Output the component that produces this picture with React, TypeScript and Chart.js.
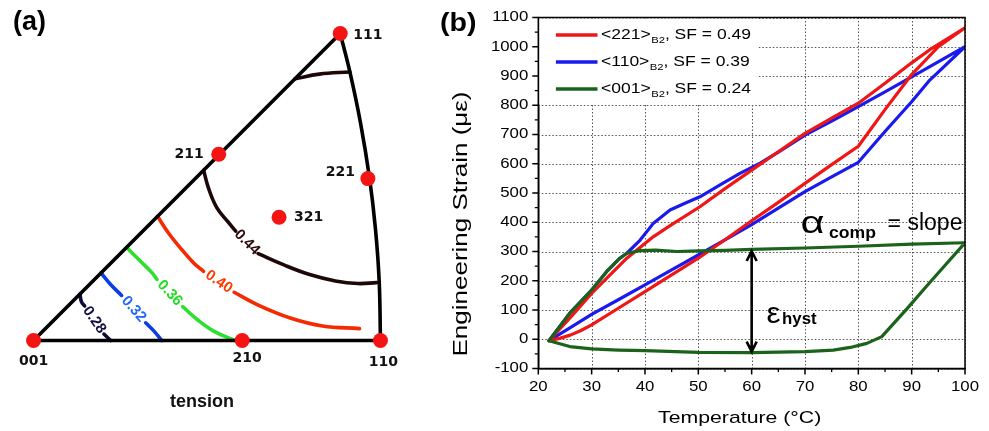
import React, { useEffect, useRef } from "react";
import { Chart, registerables } from "chart.js";

Chart.register(...registerables);

// ================= Panel (b) data: thermal strain loops =================
const X_TICKS = [20, 30, 40, 50, 60, 70, 80, 90, 100];
const X_MINOR_TICKS = [25, 35, 45, 55, 65, 75, 85, 95];
const Y_TICKS = [-100, 0, 100, 200, 300, 400, 500, 600, 700, 800, 900, 1000, 1100];
const Y_MINOR_TICKS = [-50, 50, 150, 250, 350, 450, 550, 650, 750, 850, 950, 1050];

const SERIES_NAMES = ["<221>", "<110>", "<001>"];
const SERIES_SF = ["0.49", "0.39", "0.24"];

// <221> loop (heating branch, then cooling branch)
const RED_T = [22, 24, 26, 28, 30, 35, 40, 45, 50, 55, 60, 65, 70, 75, 80, 85, 90, 95, 100, 93.4, 90, 85, 80, 75, 70, 65, 60, 55, 50.3, 45, 41.6, 38.5, 36.6, 32.8, 30, 25.9, 22];
const RED_S = [-5, 3, 14, 30, 49, 106, 163, 220, 277, 340, 405, 468, 533, 597, 660, 785, 905, 1000, 1065, 990, 945, 875, 807, 756, 704, 641, 578, 515, 453, 392, 351, 305, 277, 208, 157, 72, -5];

// <110> loop
const BLUE_T = [22, 26, 30, 35, 40, 45, 50, 55, 60, 65, 70, 75, 80, 85, 90, 93.4, 100, 93.4, 90, 85, 80, 75, 70, 65, 61.6, 57.8, 54, 50.3, 47.5, 44.7, 41.6, 39.1, 36.6, 35.3, 32.8, 30, 25.9, 22];
const BLUE_S = [-5, 40, 85, 135, 186, 237, 288, 340, 392, 448, 505, 555, 605, 710, 812, 886, 1000, 932, 897, 846, 795, 746, 698, 640, 602, 567, 527, 487, 465, 442, 397, 339, 294, 277, 231, 168, 89, -5];

// <001> loop
const GREEN_T = [22, 25.9, 30, 32.8, 35.3, 36.6, 39.1, 42, 46, 50, 55, 60, 70, 80, 90, 100, 93.4, 89.1, 84.4, 81.6, 78.5, 75.3, 70, 60, 50, 40, 35, 30, 25.9, 22];
const GREEN_S = [-5, 89, 168, 231, 277, 294, 303, 305, 300, 302, 304, 307, 312, 318, 325, 330, 194, 104, 9, -14, -28, -37, -42, -46, -45, -39, -37, -33, -25, -5];

// hysteresis arrow and annotation anchors (data units)
const ARROW_T = 60;
const ARROW_TOP = 305;
const ARROW_BOTTOM = -46;
const ALPHA_ANCHOR = { t: 69.15, s: 363 };
const EPS_ANCHOR = { t: 62.8, s: 56 };

// ================= Panel (a) data: stereographic triangle =================
const POLE_NAMES = ["001", "210", "110", "111", "211", "221", "321"];
const POLE_X = [0, 0.249, 0.414, 0.366, 0.221, 0.399, 0.293];
const POLE_Y = [0, 0, 0, 0.366, 0.222, 0.193, 0.147];

const ARC_111_110: number[][] = [[0.366, 0.366], [0.3776, 0.3199], [0.3903, 0.2589], [0.401, 0.1933], [0.4081, 0.1323], [0.4125, 0.0702], [0.414, 0]];

const C048: number[][] = [[0.312, 0.312], [0.341, 0.3176], [0.3774, 0.3202]];
const C044_A: number[][] = [[0.203, 0.203], [0.2086, 0.1822], [0.2183, 0.1591], [0.2316, 0.1419], [0.2413, 0.1304]];
const C044_B: number[][] = [[0.2681, 0.1036], [0.2988, 0.0901], [0.3295, 0.0786], [0.3602, 0.071], [0.387, 0.0679], [0.4093, 0.069]];
const C040_A: number[][] = [[0.148, 0.148], [0.1608, 0.1285], [0.1761, 0.1093], [0.1914, 0.0921], [0.2029, 0.0825]];
const C040_B: number[][] = [[0.2394, 0.0575], [0.2681, 0.0422], [0.3064, 0.0268], [0.3449, 0.0173], [0.389, 0.0142]];
const C036_A: number[][] = [[0.111, 0.111], [0.1262, 0.0959], [0.1415, 0.0806], [0.1473, 0.0728]];
const C036_B: number[][] = [[0.178, 0.0403], [0.1953, 0.025], [0.2144, 0.0115], [0.24, 0]];
const C032_A: number[][] = [[0.0805, 0.0805], [0.0917, 0.0671], [0.1051, 0.0537]];
const C032_B: number[][] = [[0.1338, 0.0211], [0.1435, 0.0115], [0.153, 0]];
const C028_A: number[][] = [[0.0554, 0.0554], [0.0572, 0.046], [0.061, 0.0411]];
const C028_B: number[][] = [[0.084, 0.0077], [0.092, 0]];

const CONTOURS = [
  { level: "0.48", a: C048, b: null as number[][] | null, color: "#1e0707", text: "#1e0707" },
  { level: "0.44", a: C044_A, b: C044_B, color: "#1e0707", text: "#2a0a0a" },
  { level: "0.40", a: C040_A, b: C040_B, color: "#f52a00", text: "#ff3a00" },
  { level: "0.36", a: C036_A, b: C036_B, color: "#2ee02e", text: "#22dd22" },
  { level: "0.32", a: C032_A, b: C032_B, color: "#0b3de6", text: "#2266ff" },
  { level: "0.28", a: C028_A, b: C028_B, color: "#0c0c3c", text: "#111144" },
];

// ================= styles =================
const SANS = "Arial, 'Liberation Sans', Helvetica, sans-serif";
const RED = "#f01616";
const BLUE = "#1a1aee";
const GREEN = "#1b631b";
const POLE_RED = "#f51414";
const GRID_COLOR = "#555555";

const POLE_LABEL_STYLE: Record<string, { dx: number; dy: number; align: CanvasTextAlign }> = {
  "001": { dx: 0, dy: 21, align: "center" },
  "210": { dx: 5, dy: 18, align: "center" },
  "110": { dx: 3, dy: 22, align: "center" },
  "111": { dx: 13, dy: 2, align: "left" },
  "211": { dx: -15, dy: 0, align: "right" },
  "221": { dx: -13, dy: -6, align: "right" },
  "321": { dx: 15, dy: 0, align: "left" },
};

type TOpts = { font: string; sx?: number; align?: CanvasTextAlign; baseline?: CanvasTextBaseline; color?: string; rotate?: number };

function drawText(ctx: CanvasRenderingContext2D, text: string, x: number, y: number, o: TOpts) {
  ctx.save();
  ctx.translate(x, y);
  if (o.rotate) ctx.rotate(o.rotate);
  ctx.scale(o.sx ?? 1, 1);
  ctx.font = o.font;
  ctx.textAlign = o.align ?? "left";
  ctx.textBaseline = o.baseline ?? "alphabetic";
  ctx.fillStyle = o.color ?? "#000";
  ctx.fillText(text, 0, 0);
  ctx.restore();
}

function measure(ctx: CanvasRenderingContext2D, text: string, font: string, sx = 1) {
  ctx.save();
  ctx.font = font;
  const w = ctx.measureText(text).width;
  ctx.restore();
  return w * sx;
}

const toXY = (t: number[], s: number[]) => t.map((v, i) => ({ x: v, y: s[i] }));
const pairsToXY = (p: number[][]) => p.map(([x, y]) => ({ x, y }));

// legend box size (px)
const LEGEND_W = 219;
const LEGEND_H = 86;

// ================= Panel (b) plugin =================
const panelBDecor = {
  id: "panelBDecor",
  beforeDatasetsDraw(chart: any) {
    const { ctx, chartArea: a } = chart;
    const xs = chart.scales.x;
    const ys = chart.scales.y;
    // dotted grid from the scales' ticks
    ctx.save();
    ctx.strokeStyle = GRID_COLOR;
    ctx.lineWidth = 1;
    ctx.setLineDash([1.5, 2]);
    ctx.beginPath();
    xs.ticks.forEach((t: any) => {
      const x = Math.round(xs.getPixelForValue(t.value)) + 0.5;
      ctx.moveTo(x, a.top);
      ctx.lineTo(x, a.bottom);
    });
    ys.ticks.forEach((t: any) => {
      const y = Math.round(ys.getPixelForValue(t.value)) + 0.5;
      ctx.moveTo(a.left, y);
      ctx.lineTo(a.right, y);
    });
    ctx.stroke();
    ctx.restore();
    // white legend background hides the grid underneath
    ctx.save();
    ctx.fillStyle = "#fff";
    ctx.fillRect(a.left + 1, a.top + 1, LEGEND_W, LEGEND_H);
    ctx.restore();
  },
  afterDraw(chart: any) {
    const { ctx, chartArea: a } = chart;
    const xs = chart.scales.x;
    const ys = chart.scales.y;

    // frame
    ctx.save();
    ctx.strokeStyle = "#000";
    ctx.lineWidth = 1.5;
    ctx.strokeRect(a.left, a.top, a.right - a.left, a.bottom - a.top);
    // major and minor ticks (outward)
    ctx.beginPath();
    xs.ticks.forEach((t: any) => {
      const x = xs.getPixelForValue(t.value);
      ctx.moveTo(x, a.bottom);
      ctx.lineTo(x, a.bottom + 6);
    });
    ys.ticks.forEach((t: any) => {
      const y = ys.getPixelForValue(t.value);
      ctx.moveTo(a.left, y);
      ctx.lineTo(a.left - 6, y);
    });
    ctx.stroke();
    ctx.lineWidth = 1.3;
    ctx.beginPath();
    X_MINOR_TICKS.forEach((v) => {
      const x = xs.getPixelForValue(v);
      ctx.moveTo(x, a.bottom);
      ctx.lineTo(x, a.bottom + 3.5);
    });
    Y_MINOR_TICKS.forEach((v) => {
      const y = ys.getPixelForValue(v);
      ctx.moveTo(a.left, y);
      ctx.lineTo(a.left - 3.5, y);
    });
    ctx.stroke();
    ctx.restore();

    // tick labels
    const tickFont = `14px ${SANS}`;
    xs.ticks.forEach((t: any) =>
      drawText(ctx, String(t.value), xs.getPixelForValue(t.value), a.bottom + 18.5, { font: tickFont, sx: 1.2, align: "center", baseline: "middle" })
    );
    ys.ticks.forEach((t: any) =>
      drawText(ctx, String(t.value), a.left - 10, ys.getPixelForValue(t.value), { font: tickFont, sx: 1.2, align: "right", baseline: "middle" })
    );

    // axis titles
    drawText(ctx, "Temperature (°C)", (a.left + a.right) / 2 - 12, a.bottom + 54, { font: `17px ${SANS}`, sx: 1.25, align: "center" });
    drawText(ctx, "Engineering Strain (με)", 41, 224, { font: `20px ${SANS}`, sx: 1.3, align: "center", baseline: "middle", rotate: -Math.PI / 2 });

    // legend
    const lf = `14px ${SANS}`;
    const sf = `9px ${SANS}`;
    const colors = [RED, BLUE, GREEN];
    SERIES_NAMES.forEach((name, i) => {
      const y = a.top + 17.5 + i * 27;
      ctx.save();
      ctx.strokeStyle = colors[i];
      ctx.lineWidth = 3.5;
      ctx.beginPath();
      ctx.moveTo(a.left + 17.6, y);
      ctx.lineTo(a.left + 59.2, y);
      ctx.stroke();
      ctx.restore();
      let x = a.left + 62.7;
      drawText(ctx, name, x, y, { font: lf, sx: 1.25, baseline: "middle" });
      x += measure(ctx, name, lf, 1.25) + 0.5;
      drawText(ctx, "B2", x, y + 6, { font: sf, sx: 1.25, baseline: "middle" });
      x += measure(ctx, "B2", sf, 1.25);
      drawText(ctx, `, SF = ${SERIES_SF[i]}`, x, y, { font: lf, sx: 1.25, baseline: "middle" });
    });

    // alpha_comp = slope
    const ax0 = xs.getPixelForValue(ALPHA_ANCHOR.t);
    const ay0 = ys.getPixelForValue(ALPHA_ANCHOR.s);
    drawText(ctx, "α", ax0, ay0, { font: `32px ${SANS}`, sx: 1.3 });
    drawText(ctx, "comp", ax0 + 28.5, ay0 + 5, { font: `bold 16px ${SANS}`, sx: 1.1 });
    drawText(ctx, "=", ax0 + 87, ay0 - 2, { font: `23px ${SANS}`, sx: 1.0 });
    drawText(ctx, "slope", ax0 + 107, ay0 - 3, { font: `23px ${SANS}`, sx: 1.0 });

    // epsilon_hyst
    const ex0 = xs.getPixelForValue(EPS_ANCHOR.t);
    const ey0 = ys.getPixelForValue(EPS_ANCHOR.s);
    drawText(ctx, "ε", ex0, ey0, { font: `30px ${SANS}`, sx: 1.05 });
    drawText(ctx, "hyst", ex0 + 15.5, ey0 + 1, { font: `bold 16px ${SANS}`, sx: 1.05 });

    // double arrow
    const px = xs.getPixelForValue(ARROW_T);
    const pt = ys.getPixelForValue(ARROW_TOP);
    const pb = ys.getPixelForValue(ARROW_BOTTOM);
    ctx.save();
    ctx.strokeStyle = "#000";
    ctx.lineWidth = 2.6;
    ctx.beginPath();
    ctx.moveTo(px, pt + 1);
    ctx.lineTo(px, pb - 1);
    ctx.moveTo(px - 5, pt + 11);
    ctx.lineTo(px, pt + 1);
    ctx.lineTo(px + 5, pt + 11);
    ctx.moveTo(px - 5, pb - 11);
    ctx.lineTo(px, pb - 1);
    ctx.lineTo(px + 5, pb - 11);
    ctx.stroke();
    ctx.restore();

    // panel label
    drawText(ctx, "(b)", 20, 24, { font: `bold 26px ${SANS}`, sx: 1.1, baseline: "middle" });
  },
};

// ================= Panel (a) plugin =================
const panelADecor = {
  id: "panelADecor",
  afterDatasetsDraw(chart: any) {
    const { ctx } = chart;
    const xs = chart.scales.x;
    const ys = chart.scales.y;
    CONTOURS.forEach((c) => {
      if (!c.b) return;
      const p = c.a[c.a.length - 1];
      const q = c.b[0];
      const x1 = xs.getPixelForValue(p[0]);
      const y1 = ys.getPixelForValue(p[1]);
      const x2 = xs.getPixelForValue(q[0]);
      const y2 = ys.getPixelForValue(q[1]);
      drawText(ctx, c.level, (x1 + x2) / 2, (y1 + y2) / 2, {
        font: `bold 15px ${SANS}`,
        align: "center",
        baseline: "middle",
        color: c.text,
        rotate: Math.atan2(y2 - y1, x2 - x1),
      });
    });
  },
  afterDraw(chart: any) {
    const { ctx } = chart;
    const xs = chart.scales.x;
    const ys = chart.scales.y;
    POLE_NAMES.forEach((name, i) => {
      const st = POLE_LABEL_STYLE[name];
      drawText(ctx, name, xs.getPixelForValue(POLE_X[i]) + st.dx, ys.getPixelForValue(POLE_Y[i]) + st.dy, {
        font: `bold 14px 'DejaVu Sans', Verdana, sans-serif`,
        align: st.align,
        baseline: "middle",
        color: "#111",
      });
    });
    drawText(ctx, "tension", 202, 402, { font: `bold 18px ${SANS}`, align: "center", baseline: "middle", color: "#111" });
    drawText(ctx, "(a)", 13, 23, { font: `bold 27px ${SANS}`, baseline: "middle" });
  },
};

// ================= components =================
const A_W = 420;
const A_H = 431;
const A_UNIT_PX = 869;
const A_ORIGIN = { x: 27, y: 345 };

function PanelA() {
  const ref = useRef<HTMLCanvasElement>(null);
  useEffect(() => {
    const line = (pts: { x: number; y: number }[], color: string, tension = 0.4) => ({
      data: pts,
      showLine: true,
      borderColor: color,
      backgroundColor: color,
      borderWidth: 3.6,
      pointRadius: 0,
      tension,
      borderCapStyle: "round" as const,
      borderJoinStyle: "round" as const,
      fill: false,
    });
    const edgeIdx = [3, 0, 2];
    const datasets: any[] = [
      {
        data: POLE_X.map((x, i) => ({ x, y: POLE_Y[i] })),
        showLine: false,
        pointRadius: 7.5,
        pointBackgroundColor: POLE_RED,
        pointBorderWidth: 0,
        pointBorderColor: POLE_RED,
      },
      line(edgeIdx.map((i) => ({ x: POLE_X[i], y: POLE_Y[i] })), "#000", 0),
      line(pairsToXY(ARC_111_110), "#000", 0.4),
    ];
    CONTOURS.forEach((c) => {
      datasets.push(line(pairsToXY(c.a), c.color));
      if (c.b) datasets.push(line(pairsToXY(c.b), c.color));
    });
    const chart = new Chart(ref.current!, {
      type: "scatter",
      data: { datasets },
      options: {
        animation: false,
        responsive: false,
        devicePixelRatio: 1,
        events: [],
        layout: { padding: 0 },
        plugins: { legend: { display: false }, tooltip: { enabled: false } },
        scales: {
          x: { type: "linear", display: false, min: -A_ORIGIN.x / A_UNIT_PX, max: (A_W - A_ORIGIN.x) / A_UNIT_PX },
          y: { type: "linear", display: false, min: -(A_H - A_ORIGIN.y) / A_UNIT_PX, max: A_ORIGIN.y / A_UNIT_PX },
        },
      } as any,
      plugins: [panelADecor],
    });
    return () => chart.destroy();
  }, []);
  return <canvas ref={ref} width={A_W} height={A_H} style={{ position: "absolute", left: 0, top: 0 }} />;
}

function PanelB() {
  const ref = useRef<HTMLCanvasElement>(null);
  useEffect(() => {
    const series = (t: number[], s: number[], color: string) => ({
      data: toXY(t, s),
      showLine: true,
      borderColor: color,
      backgroundColor: color,
      borderWidth: 3.2,
      pointRadius: 0,
      tension: 0,
      borderJoinStyle: "round" as const,
      borderCapStyle: "round" as const,
      fill: false,
    });
    const axisCommon = {
      type: "linear",
      ticks: { display: false },
      grid: { display: false, drawOnChartArea: false, drawTicks: false },
      border: { display: true, color: "#000", width: 1.5 },
    };
    const chart = new Chart(ref.current!, {
      type: "scatter",
      data: {
        datasets: [
          series(GREEN_T, GREEN_S, GREEN),
          series(RED_T, RED_S, RED),
          series(BLUE_T, BLUE_S, BLUE),
        ],
      },
      options: {
        animation: false,
        responsive: false,
        devicePixelRatio: 1,
        events: [],
        layout: { padding: { left: 0, right: 24, top: 17.5, bottom: 0 } },
        plugins: { legend: { display: false }, tooltip: { enabled: false } },
        scales: {
          x: {
            ...axisCommon,
            min: 20,
            max: 100,
            afterBuildTicks: (s: any) => {
              s.ticks = X_TICKS.map((value) => ({ value }));
            },
            afterFit: (s: any) => {
              s.height = 62.5;
            },
          },
          y: {
            ...axisCommon,
            min: -100,
            max: 1100,
            afterBuildTicks: (s: any) => {
              s.ticks = Y_TICKS.map((value) => ({ value }));
            },
            afterFit: (s: any) => {
              s.width = 118.3;
            },
          },
        },
      } as any,
      plugins: [panelBDecor],
    });
    return () => chart.destroy();
  }, []);
  return <canvas ref={ref} width={569} height={431} style={{ position: "absolute", left: 420, top: 0 }} />;
}

export default function App() {
  return (
    <div style={{ position: "absolute", left: 0, top: 0, width: 989, height: 431, background: "#fff", overflow: "hidden" }}>
      <PanelA />
      <PanelB />
    </div>
  );
}
